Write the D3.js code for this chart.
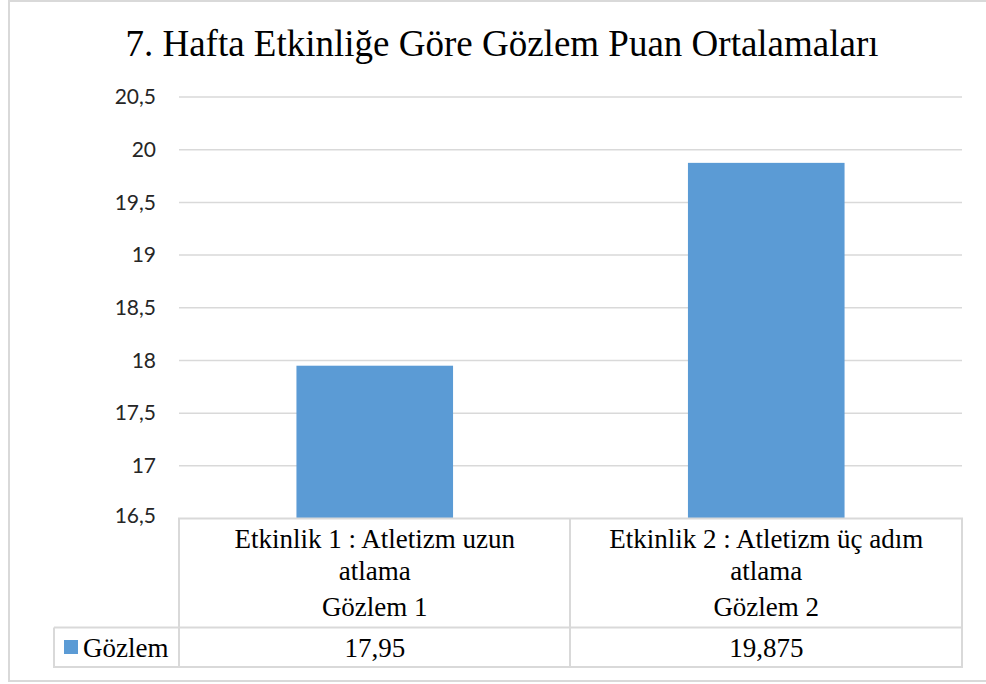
<!DOCTYPE html>
<html><head><meta charset="utf-8">
<script src="https://cdn.jsdelivr.net/npm/d3@7"></script>
</head><body style="margin:0">
<script>
const title = "7. Hafta Etkinliğe Göre Gözlem Puan Ortalamaları";
const categories = ["Gözlem 1", "Gözlem 2"];
const activityLines = [["Etkinlik 1 : Atletizm uzun", "atlama"], ["Etkinlik 2 : Atletizm üç adım", "atlama"]];
const seriesName = "Gözlem";
const values = [17.95, 19.875];
const valueLabels = ["17,95", "19,875"];
const yTicks = [16.5, 17, 17.5, 18, 18.5, 19, 19.5, 20, 20.5];

const W = 986, H = 684;
const svg = d3.select("body").append("svg").attr("width", W).attr("height", H)
  .style("display", "block").style("font-family", '"Times New Roman"');
const grid = "#d9d9d9";
const SERIF = '"Times New Roman"';
const SANS = '"Lato"';

// outer frame
svg.append("rect").attr("x", 9).attr("y", 1).attr("width", 1000).attr("height", 680)
  .attr("fill", "none").attr("stroke", grid).attr("stroke-width", 2);

const x = d3.scaleBand().domain(categories).range([179, 962]).padding(0);
const y = d3.scaleLinear().domain([16.5, 20.5]).range([518.5, 97]);

// title
svg.append("text").style("font-family", SERIF).attr("x", 502).attr("y", 56).attr("text-anchor", "middle")
  .style("font-size", "37px").attr("fill", "#000").text(title);

// gridlines
svg.append("g").selectAll("line").data(yTicks.filter(t => t > 16.5)).join("line")
  .attr("x1", 179).attr("x2", 962).attr("y1", d => y(d)).attr("y2", d => y(d))
  .attr("stroke", grid).attr("stroke-width", 1.5);

// y axis labels
const fmt = d => String(d).replace(".", ",");
svg.append("g").selectAll("text").data(yTicks).join("text").style("font-family", SANS)
  .attr("x", 156).attr("y", d => y(d) - (d === 16.5 ? 3 : 0)).attr("dy", "0.35em").attr("text-anchor", "end")
  .style("font-size", "21px").attr("fill", "#262626")
  .text(fmt);

// bars
const barW = x.bandwidth() * 0.4;
svg.append("g").selectAll("rect").data(values).join("rect")
  .attr("x", (d, i) => x(categories[i]) + (x.bandwidth() - barW) / 2)
  .attr("width", barW)
  .attr("y", d => y(d)).attr("height", d => y(16.5) - y(d))
  .attr("fill", "#5b9bd5");

// data table
const tTop = 518.5, tMid = 627.5, tBot = 667, legL = 54;
const tg = svg.append("g").attr("stroke", grid).attr("stroke-width", 2).attr("fill", "none");
tg.append("line").attr("x1", 178).attr("x2", 963).attr("y1", tTop).attr("y2", tTop);
tg.append("line").attr("x1", legL).attr("x2", 963).attr("y1", tMid).attr("y2", tMid);
tg.append("line").attr("x1", legL - 1).attr("x2", 963).attr("y1", tBot).attr("y2", tBot);
tg.append("line").attr("x1", legL).attr("x2", legL).attr("y1", tMid).attr("y2", tBot);
tg.selectAll("line.v").data([179, 570, 962]).join("line").attr("class", "v")
  .attr("x1", d => d).attr("x2", d => d).attr("y1", tTop).attr("y2", tBot);

const txt = svg.append("g").attr("fill", "#000");
categories.forEach((c, i) => {
  const cx = x(c) + x.bandwidth() / 2;
  const add = (s, yy) => txt.append("text").style("font-family", SERIF).style("font-size", "27px")
    .attr("text-anchor", "middle").attr("x", cx).attr("y", yy).text(s);
  activityLines[i].forEach((l, j) => add(l, 548 + j * 32));
  add(c, 616);
  add(valueLabels[i], 657);
});

// legend
svg.append("rect").attr("x", 64).attr("y", 640).attr("width", 14).attr("height", 14).attr("fill", "#5b9bd5");
svg.append("text").style("font-family", SERIF).attr("x", 83).attr("y", 657).style("font-size", "27px")
  .attr("fill", "#000").text(seriesName);
</script>
</body></html>
